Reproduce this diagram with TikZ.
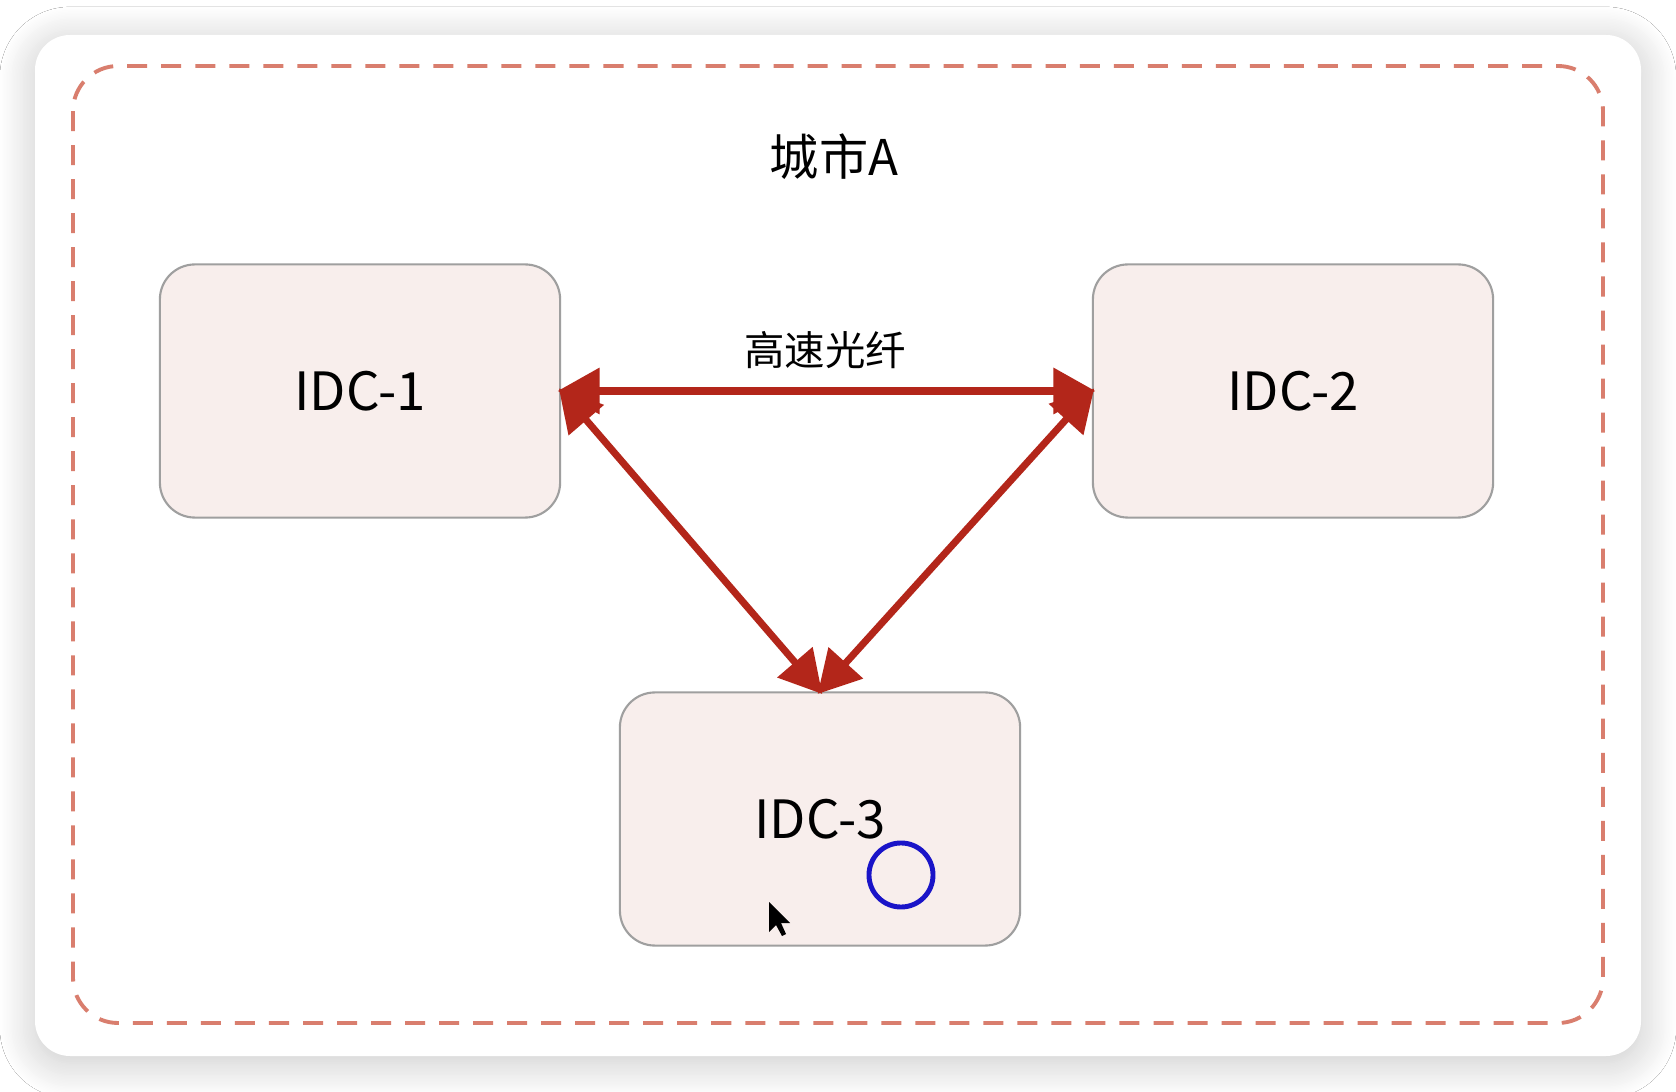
\documentclass[tikz,border=0pt]{standalone}
\usepackage{fontspec}
\setmainfont{Noto Sans CJK SC}
\usetikzlibrary{arrows.meta,shadows.blur}

\definecolor{idcfill}{HTML}{F8EEEC}
\definecolor{fibrered}{HTML}{B3261A}
\definecolor{cityline}{HTML}{D97E6E}
\definecolor{ringblue}{HTML}{1A14C8}

\begin{document}
\begin{tikzpicture}[x=0.01cm,y=-0.01cm,
	idc/.style={draw=gray!75, fill=idcfill, rounded corners=0.35cm, line width=0.6pt,
		minimum width=4cm, minimum height=2.53cm, font=\fontsize{15}{18}\selectfont},
	fibre/.style={{Triangle[length=0.42cm,width=0.45cm]}-{Triangle[length=0.42cm,width=0.45cm]},
		line width=2pt, fibrered, shorten <=-1pt, shorten >=-1pt}]

	\useasboundingbox (0,0) rectangle (1676,1092);
	\fill[white] (0,0) rectangle (1676,1092);
	\fill[white, rounded corners=0.35cm, blur shadow={shadow xshift=0pt, shadow yshift=-2pt,
		shadow blur radius=10pt, shadow blur steps=25, shadow opacity=22}] (35,35) rectangle (1641,1056);
	\draw[cityline, line width=1.1pt, rounded corners=0.45cm, dash pattern=on 0.2cm off 0.14cm]
		(73,66) rectangle (1603,1023);

	\node (city) at (834,157) {\fontsize{14}{17}\selectfont 城市A};

	\node[idc] (IDC1) at (360,391) {IDC-1};
	\node[idc] (IDC2) at (1293,391) {IDC-2};
	\node[idc] (IDC3) at (820,819) {IDC-3};

	\draw [fibre] (IDC1.east) to (IDC2.west);
	\draw [fibre] (IDC1.east) to (IDC3.north);
	\draw [fibre] (IDC2.west) to (IDC3.north);

	\node (fibrelabel) at (825,350) {\fontsize{11.5}{14}\selectfont 高速光纤};

	% screen capture marks
	\node[circle, draw=ringblue, line width=1.4pt, minimum size=0.64cm, inner sep=0pt] (ring) at (901,875) {};
	\fill[black] (769,902) -- ++(0,30) -- ++(7,-7) -- ++(6,11) -- ++(4,-2) -- ++(-5,-11) -- ++(9,0) -- cycle;

\end{tikzpicture}
\end{document}
